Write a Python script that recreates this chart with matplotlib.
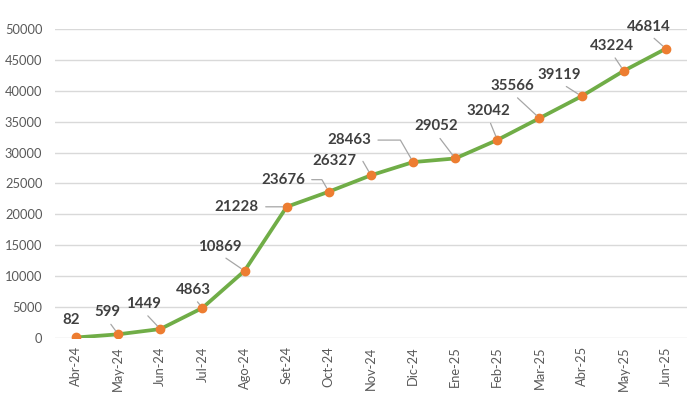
import matplotlib.pyplot as plt

months = ["Abr-24", "May-24", "Jun-24", "Jul-24", "Ago-24", "Set-24", "Oct-24",
          "Nov-24", "Dic-24", "Ene-25", "Feb-25", "Mar-25", "Abr-25", "May-25", "Jun-25"]
values = [82, 599, 1449, 4863, 10869, 21228, 23676, 26327, 28463, 29052,
          32042, 35566, 39119, 43224, 46814]

# label offsets in pixels (text center relative to point)
label_dx = [-5, -11, -17, -9, -25, -50, -46, -37, -64, -19, -9, -27, -22, -12, -17]
label_dy = [17, 22, 25, 18, 24, 0, 12, 14, 22, 32, 29, 32, 21, 25, 22]

plt.rcParams["font.family"] = ["Lato", "DejaVu Sans"]

fig = plt.figure(figsize=(6.89, 3.97), dpi=100)
ax = fig.add_axes([0.0798, 0.1486, 0.9172, 0.7784])

x = list(range(len(months)))
ax.plot(x, values, color="#70AD47", linewidth=2.7, zorder=3,
        marker="o", markersize=6, markerfacecolor="#ED7D31",
        markeredgecolor="#ED7D31")

for i, v in enumerate(values):
    dx, dy = label_dx[i], label_dy[i]
    arrow = None
    if i in (5, 6, 7, 8):
        arrow = dict(arrowstyle="-", color="#A6A6A6", lw=0.9, relpos=(1, 0.5),
                     shrinkA=3, shrinkB=3,
                     connectionstyle="angle,angleA=0,angleB=-60,rad=0" if i != 5 else "arc3")
    elif i != 0:
        arrow = dict(arrowstyle="-", color="#A6A6A6", lw=0.9, relpos=(0.5, 0),
                     shrinkA=2, shrinkB=3)
    ax.annotate(str(v), xy=(i, v), xytext=(dx, dy), textcoords="offset pixels",
                ha="center", va="center", fontsize=10.8, fontweight="bold",
                color="#404040", arrowprops=arrow, zorder=4)

ax.set_xlim(-0.5, len(months) - 0.5)
ax.set_ylim(0, 50000)
ax.set_yticks(range(0, 50001, 5000))
ax.set_xticks(x)
ax.set_xticklabels(months, rotation=90)
ax.tick_params(axis="both", length=0, labelsize=9.3, colors="#595959")
ax.tick_params(axis="y", pad=9)
ax.tick_params(axis="x", pad=6)
ax.grid(axis="y", color="#D9D9D9", linewidth=1)
ax.set_axisbelow(True)
for s in ax.spines.values():
    s.set_visible(False)

fig.savefig("out.png", dpi=100)
